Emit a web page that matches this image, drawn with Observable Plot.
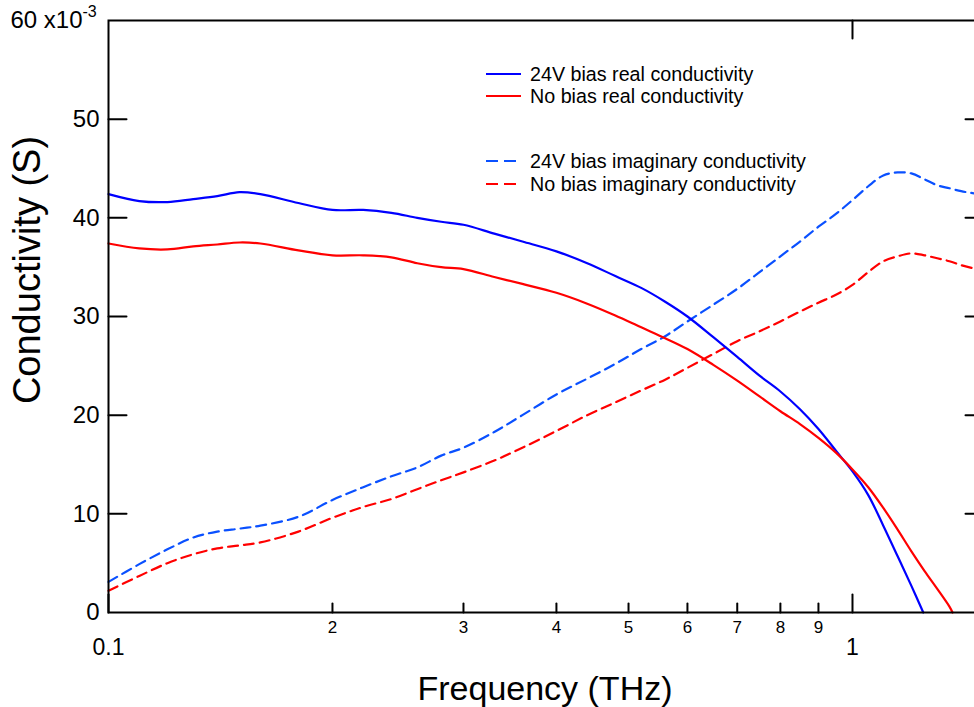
<!DOCTYPE html>
<html><head><meta charset="utf-8">
<script src="https://cdn.jsdelivr.net/npm/d3@7"></script>
<script src="https://cdn.jsdelivr.net/npm/@observablehq/plot@0.6"></script>
<style>
html,body{margin:0;padding:0;background:#fff;overflow:hidden;width:974px;height:707px;}
#chart svg{display:block;max-width:none !important;width:983px !important;height:707px !important;}
</style></head><body><div id="chart"></div>
<script>
// Frequencies (THz)
const freqImag = [0.1,0.11,0.12,0.13,0.14,0.15,0.16,0.18,0.2,0.22,0.24,0.26,0.28,0.3,0.33,0.36,0.4,0.44,0.48,0.52,0.56,0.6,0.65,0.7,0.75,0.8,0.85,0.9,0.95,1.0,1.05,1.1,1.15,1.2,1.25,1.3,1.35,1.4,1.45,1.5];
const freqRealBias = [0.1,0.11,0.12,0.13,0.14,0.15,0.16,0.18,0.2,0.22,0.24,0.26,0.28,0.3,0.33,0.36,0.4,0.44,0.48,0.52,0.56,0.6,0.65,0.7,0.75,0.8,0.85,0.9,0.95,1.0,1.05,1.1,1.15,1.2,1.245];
const freqRealNoBias = [0.1,0.11,0.12,0.13,0.14,0.15,0.16,0.18,0.2,0.22,0.24,0.26,0.28,0.3,0.33,0.36,0.4,0.44,0.48,0.52,0.56,0.6,0.65,0.7,0.75,0.8,0.85,0.9,0.95,1.0,1.05,1.1,1.15,1.2,1.25,1.3,1.35,1.363];

// Conductivity (x10^-3 S)
const realBias = [42.4,41.7,41.6,41.9,42.2,42.6,42.4,41.5,40.8,40.8,40.5,40.0,39.6,39.3,38.4,37.6,36.6,35.4,34.1,32.9,31.5,30.0,27.9,25.9,24.0,22.4,20.6,18.6,16.4,14.3,11.9,8.8,5.7,2.7,0];
const realNoBias = [37.4,36.9,36.8,37.1,37.3,37.5,37.4,36.7,36.2,36.2,36.0,35.4,35.0,34.8,34.0,33.3,32.4,31.3,30.1,28.9,27.8,26.7,25.1,23.5,21.9,20.4,19.1,17.7,16.2,14.5,12.7,10.6,8.4,6.2,4.2,2.4,0.6,0];
const imagBias = [3.1,4.9,6.4,7.6,8.2,8.5,8.8,9.7,11.4,12.7,13.8,14.7,15.9,16.7,18.3,20.0,22.1,23.7,25.2,26.7,28.0,29.5,31.2,32.8,34.5,36.1,37.6,39.1,40.4,41.8,43.2,44.3,44.6,44.5,43.9,43.3,43.0,42.7,42.5,42.3];
const imagNoBias = [2.2,3.7,5.0,5.9,6.5,6.8,7.1,8.2,9.6,10.7,11.5,12.5,13.4,14.2,15.4,16.7,18.4,20.0,21.3,22.5,23.6,24.8,26.2,27.5,28.5,29.5,30.5,31.4,32.2,33.2,34.5,35.6,36.1,36.4,36.2,35.9,35.6,35.2,34.9,34.5];

// Axis ticks and labels
const yTicks = [0,10,20,30,40,50];
const yInnerTicks = [10,20,30,40,50];
const xMajor = [0.1, 1];
const xMinor = [0.2,0.3,0.4,0.5,0.6,0.7,0.8,0.9];
const xMajorLabels = ["0.1","1"];
const xMinorLabels = ["2","3","4","5","6","7","8","9"];

const seriesNames = ["24V bias real conductivity","No bias real conductivity","24V bias imaginary conductivity","No bias imaginary conductivity"];

const zip = (fs, vs) => fs.map((f, i) => ({f, v: vs[i]}));
const dRB = zip(freqRealBias, realBias);
const dRN = zip(freqRealNoBias, realNoBias);
const dIB = zip(freqImag, imagBias);
const dIN = zip(freqImag, imagNoBias);

const BLUE = "#0000ff", BLUE2 = "#0a50ff", RED = "#ff0000";
const FONT = "'Liberation Sans', Arial, Helvetica, sans-serif";

const tickShape = {draw(context, l) { context.moveTo(0, 0); context.lineTo(0, -l); }};
const tk = (data, opts) => Plot.vector(data, {shape: tickShape, anchor: "start", stroke: "black", strokeWidth: 2, ...opts});

const plot = Plot.plot({
  width: 983, height: 707,
  marginLeft: 108, marginRight: 0, marginTop: 20, marginBottom: 95,
  style: {fontFamily: FONT, background: "white", color: "black", maxWidth: "none"},
  x: {type: "log", domain: [0.1, 1.5], label: null},
  y: {domain: [0, 60], label: null},
  marks: [
    Plot.line(dIB, {x: "f", y: "v", stroke: BLUE2, strokeWidth: 2.2, strokeDasharray: "10,6", curve: "catmull-rom"}),
    Plot.line(dIN, {x: "f", y: "v", stroke: RED, strokeWidth: 2.2, strokeDasharray: "10,6", curve: "catmull-rom"}),
    Plot.line(dRB, {x: "f", y: "v", stroke: BLUE, strokeWidth: 2.2, curve: "catmull-rom"}),
    Plot.line(dRN, {x: "f", y: "v", stroke: RED, strokeWidth: 2.2, curve: "catmull-rom"}),
    Plot.frame({stroke: "black", strokeWidth: 2}),
    // ticks
    tk(yInnerTicks, {y: d => d, frameAnchor: "left", rotate: 90, length: 18}),
    tk(yInnerTicks, {y: d => d, frameAnchor: "right", rotate: -90, length: 18}),
    tk(xMajor, {x: d => d, frameAnchor: "bottom", rotate: 0, length: 18}),
    tk(xMinor, {x: d => d, frameAnchor: "bottom", rotate: 0, length: 9}),
    tk([1], {x: d => d, frameAnchor: "top", rotate: 180, length: 18}),
    // tick labels
    Plot.axisY(yTicks, {tickSize: 0, tickPadding: 9, fontSize: 24, label: null}),
    Plot.text([60], {y: d => d, frameAnchor: "left", text: () => "60 x10", textAnchor: "end", dx: -26, fontSize: 24}),
    Plot.text([60], {y: d => d, frameAnchor: "left", text: () => "-3", textAnchor: "start", dx: -26, dy: -9, fontSize: 16}),
    Plot.axisX(xMajor, {tickSize: 0, tickPadding: 26, fontSize: 23, label: null, tickFormat: (d) => xMajorLabels[xMajor.indexOf(d)]}),
    Plot.axisX(xMinor, {tickSize: 0, tickPadding: 8, fontSize: 17, label: null, tickFormat: (d) => xMinorLabels[xMinor.indexOf(d)]})
  ]
});

const svg = d3.select(plot);
// axis titles
svg.append("text").attr("x", 545).attr("y", 700).attr("text-anchor", "middle")
  .attr("font-size", 34).attr("font-family", FONT).attr("fill", "black").text("Frequency (THz)");
svg.append("text").attr("transform", "translate(40,270) rotate(-90)").attr("text-anchor", "middle")
  .attr("font-size", 38).attr("font-family", FONT).attr("fill", "black").text("Conductivity (S)");

// legend
const leg = svg.append("g").attr("font-family", FONT).attr("font-size", 19.7).attr("fill", "black").attr("text-anchor", "start");
const legendItems = [
  {name: seriesNames[0], color: BLUE, dash: null, y: 74},
  {name: seriesNames[1], color: RED, dash: null, y: 96},
  {name: seriesNames[2], color: BLUE2, dash: "12,6", y: 161},
  {name: seriesNames[3], color: RED, dash: "12,6", y: 184}
];
legendItems.forEach(it => {
  leg.append("line").attr("x1", 486).attr("x2", it.dash ? 516 : 521).attr("y1", it.y).attr("y2", it.y)
    .attr("stroke", it.color).attr("stroke-width", 2).attr("stroke-dasharray", it.dash);
  leg.append("text").attr("x", 530).attr("y", it.y + 7).attr("text-anchor", "start").text(it.name);
});

document.getElementById("chart").appendChild(plot);
</script>
</body></html>
